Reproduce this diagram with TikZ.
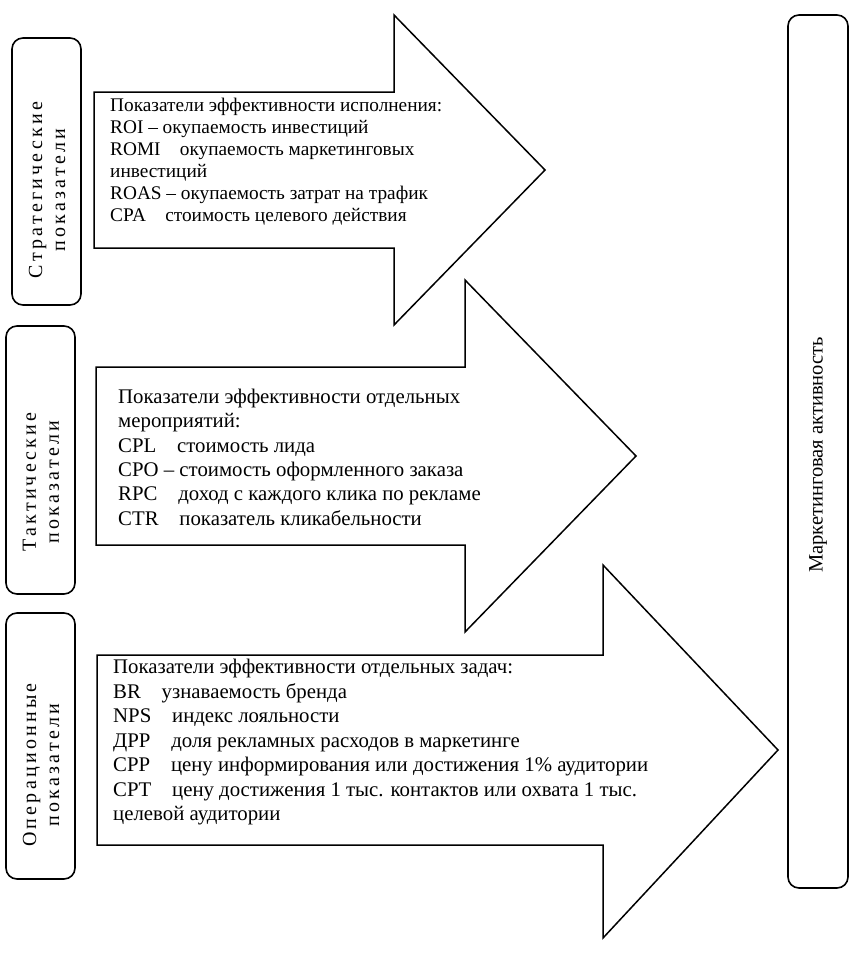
\documentclass[tikz,border=0pt]{standalone}
\usepackage{fontspec}
\setmainfont{Liberation Serif}
\newfontfamily\lblfont[LetterSpace=16]{Liberation Serif}
\begin{document}
\begin{tikzpicture}[x=1pt,y=-1pt,
  lbl/.style={draw, line width=1.6pt, rounded corners=11pt, inner sep=0pt},
  arr/.style={draw, line width=1.5pt, fill=white, line join=miter},
  lbltext/.style={rotate=90, align=center, inner sep=0pt, font=\lblfont\fontsize{20}{23}\selectfont},
  txtA/.style={anchor=north west, align=left, inner sep=0pt, font=\fontsize{19.3}{22}\selectfont},
  txtB/.style={anchor=north west, align=left, inner sep=0pt, font=\fontsize{20.8}{24.3}\selectfont},
  txtC/.style={anchor=north west, align=left, inner sep=0pt, font=\fontsize{20.8}{24.5}\selectfont}]
\useasboundingbox (0,0) rectangle (862,953);

% left label boxes
\node[lbl, minimum width=69pt, minimum height=267pt] (strat) at (46.5,171.5) {};
\node[lbltext] (stratT) at (47,190) {Стратегические\\показатели};
\node[lbl, minimum width=69pt, minimum height=268pt] (takt) at (40.5,460) {};
\node[lbltext] (taktT) at (41,482) {Тактические\\показатели};
\node[lbl, minimum width=69pt, minimum height=266pt] (oper) at (40.5,746) {};
\node[lbltext] (operT) at (41,765) {Операционные\\показатели};

% right box
\node[lbl, minimum width=60pt, minimum height=873pt] (mark) at (818,451.5) {};
\node[rotate=90, inner sep=0pt, font=\fontsize{20.5}{24}\selectfont] (markT) at (818,455) {Маркетинговая активность};

% arrows
\draw[arr] (94,92) -- (394,92) -- (394,15) -- (545,170) -- (394,325) -- (394,248) -- (94,248) -- cycle;
\draw[arr] (96,367) -- (465,367) -- (465,280) -- (636,456) -- (465,632) -- (465,545) -- (96,545) -- cycle;
\draw[arr] (97,655) -- (603,655) -- (603,565) -- (778,750) -- (603,938) -- (603,845) -- (97,845) -- cycle;

% arrow texts
\node[txtA] (a1) at (110,98) {Показатели эффективности исполнения:\\
ROI – окупаемость инвестиций\\
ROMI\quad окупаемость маркетинговых\\
инвестиций\\
ROAS – окупаемость затрат на трафик\\
CPA\quad стоимость целевого действия};

\node[txtB] (a2) at (118,389) {Показатели эффективности отдельных\\
мероприятий:\\
CPL\quad стоимость лида\\
CPO – стоимость оформленного заказа\\
RPC\quad доход с каждого клика по рекламе\\
CTR\quad показатель кликабельности};

\node[txtC] (a3) at (113,659) {Показатели эффективности отдельных задач:\\
BR\quad узнаваемость бренда\\
NPS\quad индекс лояльности\\
ДРР\quad доля рекламных расходов в маркетинге\\
CPP\quad цену информирования или достижения 1\% аудитории\\
CPT\quad цену достижения 1 тыс. контактов или охвата 1 тыс.\\
целевой аудитории};
\end{tikzpicture}
\end{document}
